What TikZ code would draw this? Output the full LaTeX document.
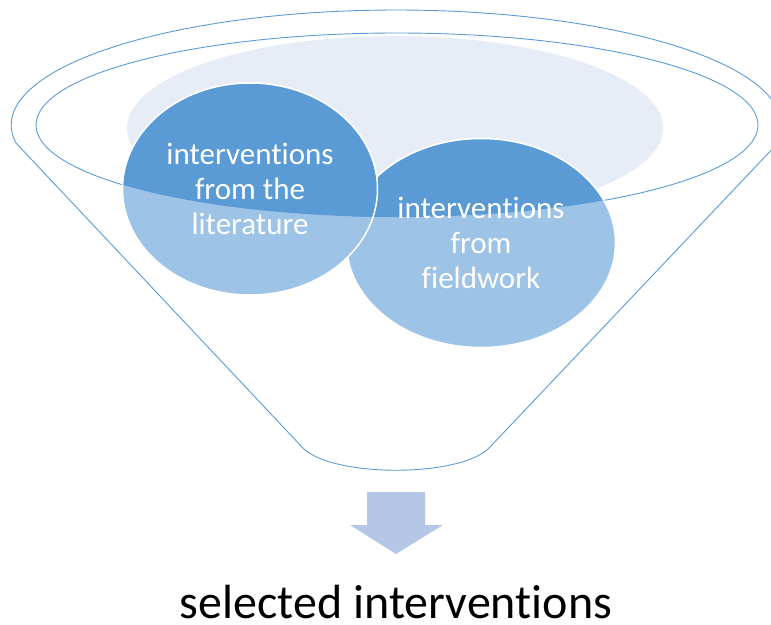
\documentclass[tikz,border=0pt]{standalone}
\usepackage{fontspec}
\setmainfont{Carlito}[Ligatures=NoCommon]
\usetikzlibrary{shapes.geometric}
\definecolor{rimblue}{HTML}{5B9BD5}
\definecolor{darkblob}{HTML}{5B9BD5}
\definecolor{lightblob}{HTML}{9DC3E6}
\definecolor{shadeblue}{HTML}{E7EDF7}
\definecolor{arrowblue}{HTML}{B4C7E7}
\begin{document}
\begin{tikzpicture}[x=1pt, y=-1pt,
  rim/.style={draw=rimblue, line width=0.9pt},
  blob/.style={ellipse, draw=white, line width=1.5pt, inner sep=0pt},
  blobtext/.style={text=white, align=center, font=\fontsize{31}{35}\selectfont}]
\useasboundingbox (0,0) rectangle (771,624);
\fill[shadeblue] (395,128) ellipse [x radius=268, y radius=92];
% funnel
\draw[rim] (778,143) -- (490,447) .. controls (462,478) and (330,478) .. (302,447)
       -- (16,143) arc[start angle=171, end angle=369, x radius=385, y radius=115];
\draw[rim] (397,125) ellipse [x radius=361, y radius=92];
\node[blob, fill=lightblob, minimum width=269, minimum height=209] (field) at (481,243) {};
\node[blob, fill=lightblob, minimum width=255, minimum height=212] (lit) at (250,189) {};
\begin{scope}
\clip (397,125) ellipse [x radius=361, y radius=92];
\node[blob, fill=darkblob, minimum width=269, minimum height=209] (fieldTop) at (481,243) {};
\node[blob, fill=darkblob, minimum width=255, minimum height=212] (litTop) at (250,189) {};
\end{scope}
\node[blobtext] (litText) at (lit) {interventions\\from the\\literature};
\node[blobtext] (fieldText) at (field) {interventions\\from\\fieldwork};
% arrow
\fill[arrowblue] (367,492) -- (425,492) -- (425,525) -- (443,525) -- (396,554)
       -- (350,525) -- (367,525) -- cycle;
\node[anchor=base, inner sep=0pt, font=\fontsize{48}{52}\selectfont] (result) at (396,618) {selected interventions};
\end{tikzpicture}
\end{document}
